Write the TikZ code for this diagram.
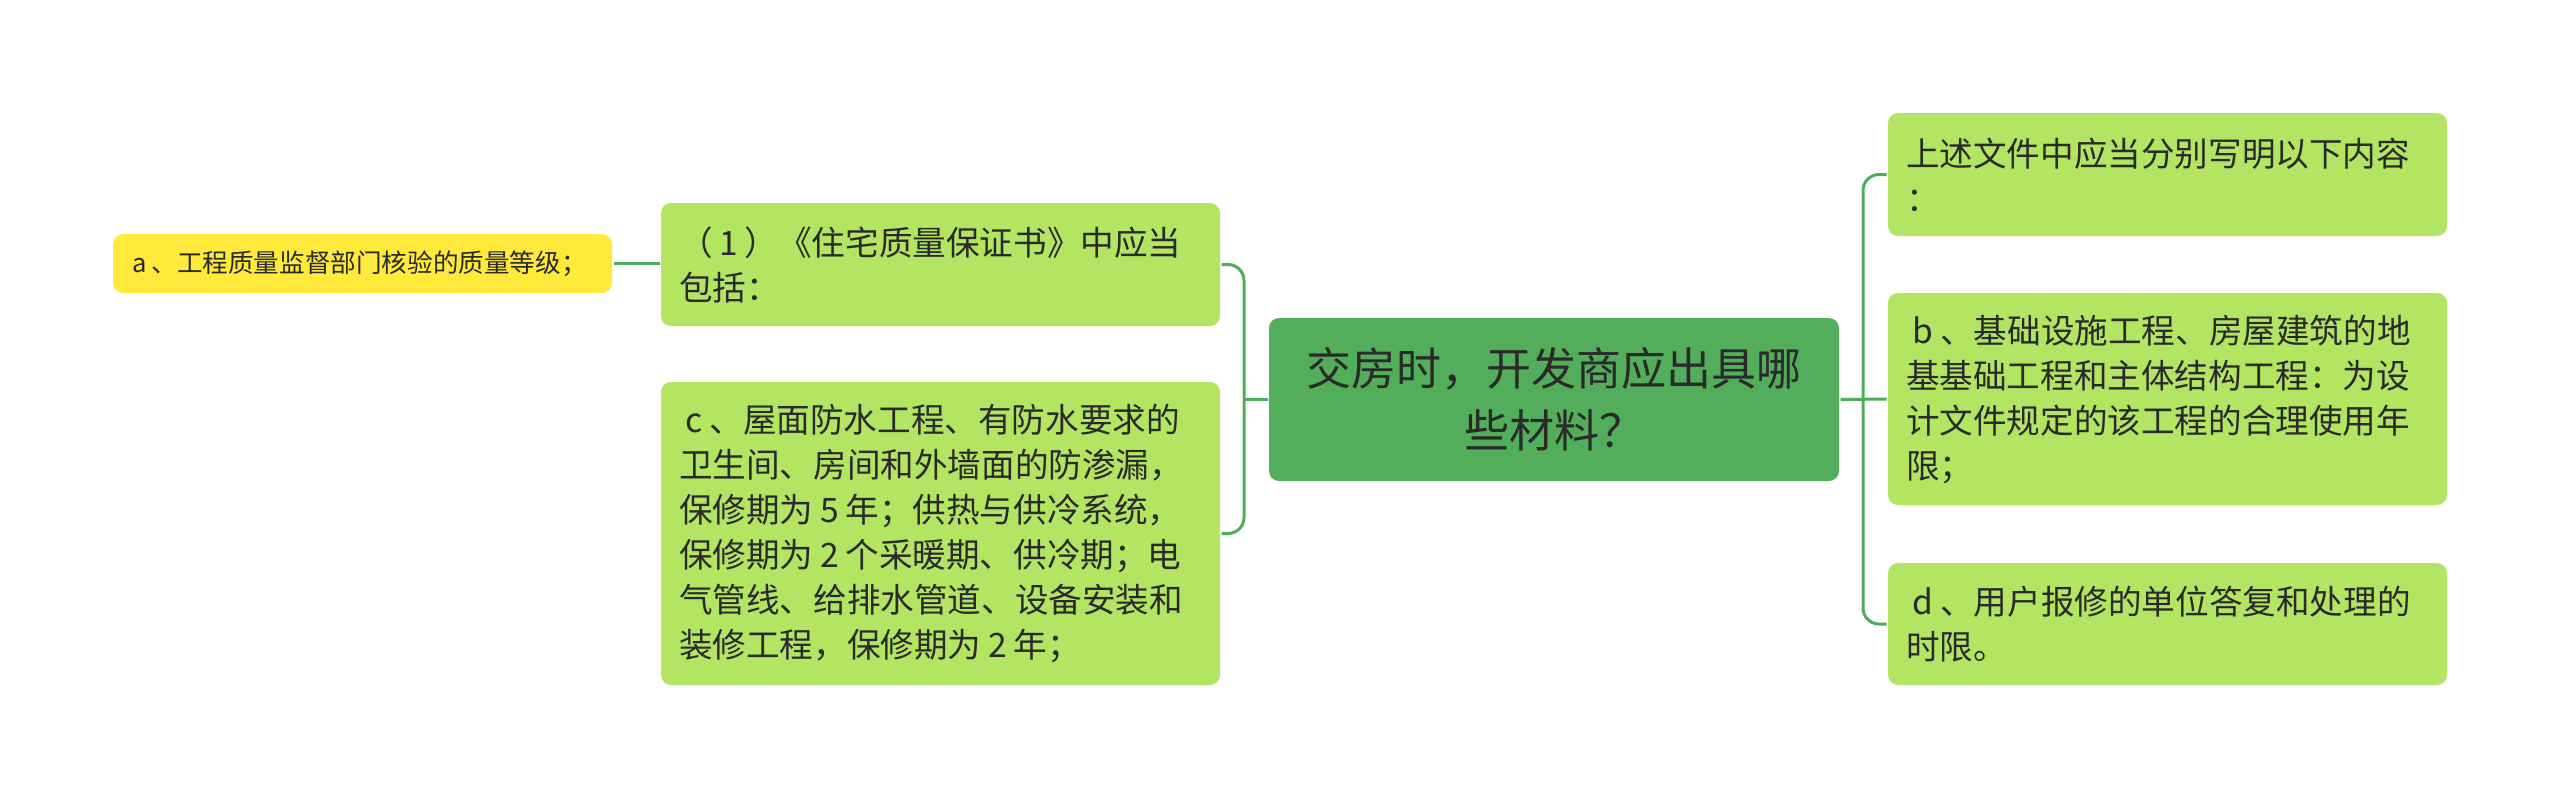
\documentclass[tikz,border=0pt]{standalone}
\usepackage{fontspec}
\setmainfont{Noto Sans CJK SC}
\usepackage{xcolor}
\usetikzlibrary{positioning}
\definecolor{trunk}{HTML}{53AE5B}
\definecolor{leaf}{HTML}{B3E462}
\definecolor{note}{HTML}{FFEA3B}
\definecolor{wire}{HTML}{4FAD5A}
\definecolor{ink}{HTML}{2A2A2A}
\newcommand{\tsp}[0]{\hspace*{0.2em}}

\begin{document}
\begin{tikzpicture}[x=0.5pt,y=-0.5pt,line width=1.5pt]
  \tikzstyle{every node}=[text=ink]
  \tikzstyle{root}=[fill=trunk,rounded corners=5pt,align=center,
    text width=267pt,inner xsep=9pt,inner ysep=0pt,minimum height=81.5pt,
    font=\fontsize{22.5pt}{31pt}\selectfont]
  \tikzstyle{leafbox}=[fill=leaf,rounded corners=5pt,align=left,
    text width=261.5pt,inner xsep=9pt,inner ysep=0pt,
    font=\fontsize{16.8pt}{22.5pt}\selectfont]
  \tikzstyle{notebox}=[fill=note,rounded corners=5pt,align=left,
    text width=230.5pt,inner xsep=9.5pt,inner ysep=0pt,minimum height=29.5pt,
    font=\fontsize{12.8pt}{16pt}\selectfont]
  \tikzstyle{wire}=[draw=wire,rounded corners=8pt]

  \useasboundingbox (0,0) rectangle (2560,799);

  \node[root]                          (root) at (1554,399.5) {交房时，开发商应出具哪\\些材料？};
  \node[leafbox,minimum height=61.5pt]  (q1)  at (940.5,264.5) {（\tsp 1\tsp）《住宅质量保证书》中应当\\包括：};
  \node[leafbox,minimum height=151.5pt] (qc)  at (940.5,533.5) {\tsp c\tsp 、屋面防水工程、有防水要求的\\卫生间、房间和外墙面的防渗漏，\\保修期为\tsp 5\tsp 年；供热与供冷系统，\\保修期为\tsp 2\tsp 个采暖期、供冷期；电\\气管线、给排水管道、设备安装和\\装修工程，保修期为\tsp 2\tsp 年；};
  \node[notebox]                       (qa)  at (362.5,263.5) {a\tsp 、工程质量监督部门核验的质量等级；};
  \node[leafbox,minimum height=61.5pt]  (r1)  at (2167.5,174.5) {上述文件中应当分别写明以下内容\\：};
  \node[leafbox,minimum height=106pt]   (rb)  at (2167.5,399) {\tsp b\tsp 、基础设施工程、房屋建筑的地\\基基础工程和主体结构工程：为设\\计文件规定的该工程的合理使用年\\限；};
  \node[leafbox,minimum height=61pt]    (rd)  at (2167.5,624) {\tsp d\tsp 、用户报修的单位答复和处理的\\时限。};

  \coordinate (lj) at (1244,399.5);
  \coordinate (rj) at (1863,399.5);

  \path[wire]
  (root.west) edge (lj)
  (qa.east)   edge (qa.east -| q1.west)
  (root.east) edge (rb.west)
  ;
  \draw[wire] (q1.east) -| (lj) |- (qc.east);
  \draw[wire] (r1.west) -| (rj) |- (rd.west);
\end{tikzpicture}
\end{document}
